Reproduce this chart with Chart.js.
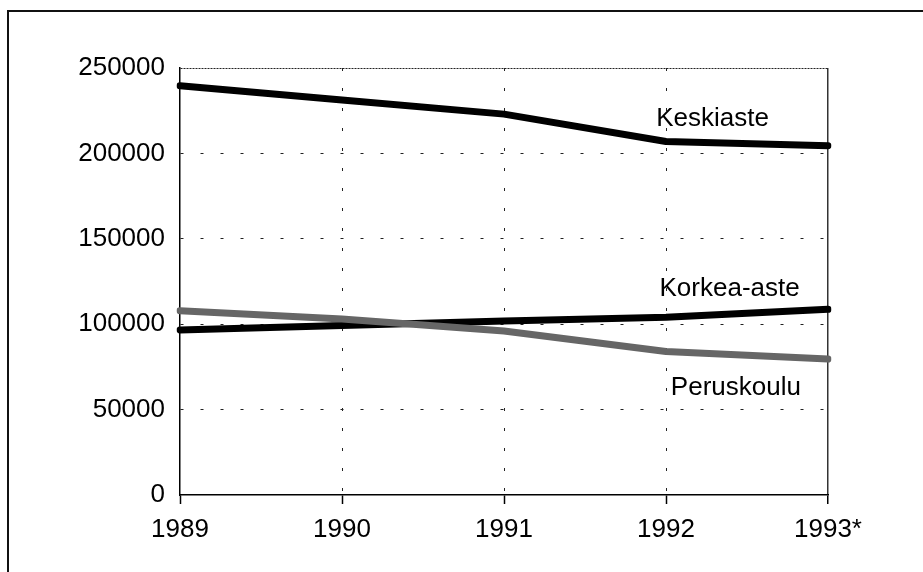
<!DOCTYPE html>
<html>
<head>
<meta charset="utf-8">
<script src="https://cdn.jsdelivr.net/npm/chart.js@4.4.0/dist/chart.umd.min.js"></script>
<style>
    body { margin: 0; background: #fff; }
    #wrap { position: relative; width: 923px; height: 572px; overflow: hidden; }
    #frame {
        position: absolute; left: 7px; top: 10px; width: 1200px; height: 800px;
        border-left: 2px solid #111; border-top: 2px solid #111; pointer-events: none;
    }
</style>
</head>
<body>
<div id="wrap">
    <canvas id="lineChart" width="923" height="572"></canvas>
    <div id="frame"></div>
</div>
<script>
var years = ['1989', '1990', '1991', '1992', '1993*'];
var keskiaste = [239600, 231300, 223000, 207000, 204500];
var korkeaAste = [96600, 99300, 101900, 104000, 108700];
var peruskoulu = [107900, 103000, 96000, 84000, 79600];
var seriesNames = ['Keskiaste', 'Korkea-aste', 'Peruskoulu'];

var FONT = '"Liberation Sans", Arial, sans-serif';

// series names written next to the lines (x as category index, y as value)
var seriesLabels = {
    id: 'seriesLabels',
    afterDatasetsDraw: function (chart) {
        var ctx = chart.ctx;
        var xs = chart.scales.x, ys = chart.scales.y;
        var spots = [[2.94, 220500], [2.96, 120600], [3.03, 62600]];
        ctx.save();
        ctx.font = '26px ' + FONT;
        ctx.fillStyle = '#000';
        ctx.textBaseline = 'middle';
        ctx.textAlign = 'left';
        seriesNames.forEach(function (name, i) {
            ctx.fillText(name, xs.getPixelForValue(spots[i][0]), ys.getPixelForValue(spots[i][1]));
        });
        ctx.restore();
    }
};

var ctx = document.getElementById('lineChart').getContext('2d');
var lineChart = new Chart(ctx, {
    type: 'line',
    data: {
        labels: years,
        datasets: [{
            label: seriesNames[0],
            data: keskiaste,
            borderColor: '#000',
            order: 1
        }, {
            label: seriesNames[1],
            data: korkeaAste,
            borderColor: '#000',
            order: 1
        }, {
            label: seriesNames[2],
            data: peruskoulu,
            borderColor: '#666',
            order: 0
        }]
    },
    options: {
        responsive: false,
        animation: false,
        devicePixelRatio: 1,
        layout: { padding: { top: 68, right: 95, left: 0, bottom: 0 } },
        elements: {
            line: { borderWidth: 7, tension: 0, borderCapStyle: 'round', borderJoinStyle: 'round', fill: false },
            point: { radius: 0, hoverRadius: 0 }
        },
        plugins: {
            legend: { display: false },
            tooltip: { enabled: false }
        },
        scales: {
            x: {
                afterFit: function (scale) { scale.height = 77; },
                grid: {
                    color: function (c) {
                        if (c.index === 0) return 'rgba(0,0,0,0)';
                        return c.index === years.length - 1 ? '#333' : '#222';
                    },
                    lineWidth: function (c) { return c.index === years.length - 1 ? 1.5 : 1; },
                    tickColor: '#000',
                    tickLength: 9,
                    tickWidth: 1.5,
                    tickBorderDash: []
                },
                border: {
                    display: true,
                    color: '#000',
                    width: 1.5,
                    dash: function (c) { return c.index === years.length - 1 ? [] : [3, 17]; }
                },
                ticks: {
                    color: '#000',
                    font: { family: FONT, size: 26 },
                    padding: 10,
                    maxRotation: 0,
                    autoSkip: false
                }
            },
            y: {
                min: 0,
                max: 250000,
                afterFit: function (scale) { scale.width = 180; },
                grid: {
                    drawTicks: false,
                    color: function (c) { return c.index === 0 ? 'rgba(0,0,0,0)' : '#222'; },
                    lineWidth: 1
                },
                border: {
                    display: true,
                    color: '#000',
                    width: 1.5,
                    dash: function (c) { return c.index === 5 ? [2, 1] : [3, 17]; }
                },
                ticks: {
                    stepSize: 50000,
                    color: '#000',
                    font: { family: FONT, size: 26 },
                    padding: 15,
                    callback: function (v) { return String(v); }
                }
            }
        }
    },
    plugins: [seriesLabels]
});
</script>
</body>
</html>
